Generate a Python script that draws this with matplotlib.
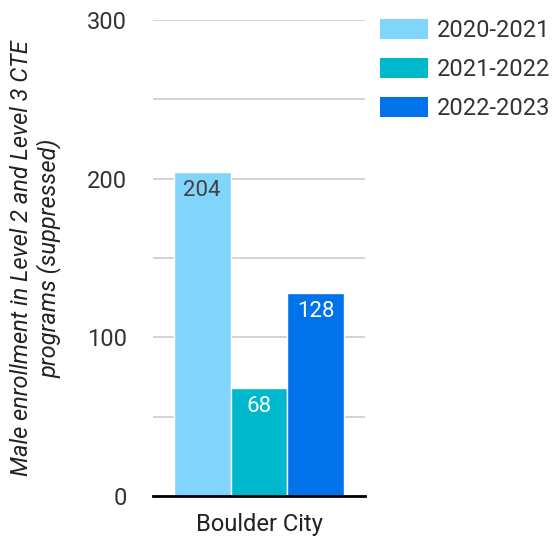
"""
Male CTE enrollment, Boulder City, by school year
"""

import matplotlib.pyplot as plt
from matplotlib.patches import Patch

plt.rcParams["font.family"] = ["Roboto", "DejaVu Sans"]

# Data
category = "Boulder City"
years = ["2020-2021", "2021-2022", "2022-2023"]
enrollment = [204, 68, 128]
colours = ["#81D4FA", "#00B8CC", "#0073EB"]
label_colours = ["#424242", "white", "white"]

fig = plt.figure(figsize=(5.52, 5.39), dpi=100)
ax = fig.add_axes([153 / 552, 1 - 496 / 539, 212 / 552, 476 / 539])

width = 0.268
offsets = [-width, 0, width]
bars = ax.bar(
    [0.5 + o for o in offsets],
    enrollment,
    width=width,
    color=colours,
    edgecolor="white",
    linewidth=1,
    zorder=3,
)

# value labels just inside the top of each bar
for rect, val, tc in zip(bars, enrollment, label_colours):
    ax.annotate(
        str(val),
        (rect.get_x() + rect.get_width() / 2, rect.get_height()),
        xytext=(0, -5.5),
        textcoords="offset points",
        ha="center",
        va="top",
        fontsize=16,
        color=tc,
        zorder=4,
    )

# Format the axes
ax.set_xlim(0, 1)
ax.set_ylim(0, 300)
ax.set_yticks(range(0, 301, 100))
ax.set_yticks(range(50, 300, 100), minor=True)
ax.set_xticks([0.5])
ax.set_xticklabels([category], fontsize=17, color="#222222")
ax.tick_params(axis="x", length=0, pad=12)
ax.tick_params(axis="y", which="both", length=0, pad=19, labelsize=17, labelcolor="#333333")
ax.grid(axis="y", which="both", color="#CCCCCC", lw=1.2, zorder=0)
for side in ["top", "right", "left"]:
    ax.spines[side].set_visible(False)
ax.spines["bottom"].set_color("black")
ax.spines["bottom"].set_linewidth(2)
ax.spines["bottom"].set_zorder(5)

ax.set_ylabel(
    "Male enrollment in Level 2 and Level 3 CTE\nprograms (suppressed)",
    fontsize=17,
    style="italic",
    color="#222222",
    labelpad=18,
)

handles = [Patch(facecolor=c, edgecolor="none") for c in colours]
fig.legend(
    handles,
    years,
    loc="upper left",
    bbox_to_anchor=(380 / 552, 1 - 19 / 539),
    frameon=False,
    fontsize=17,
    handlelength=2.03,
    handleheight=0.95,
    handletextpad=0.38,
    labelspacing=0.66,
    borderpad=0,
    borderaxespad=0,
    labelcolor="#333333",
)

fig.savefig("out.png", dpi=100)
